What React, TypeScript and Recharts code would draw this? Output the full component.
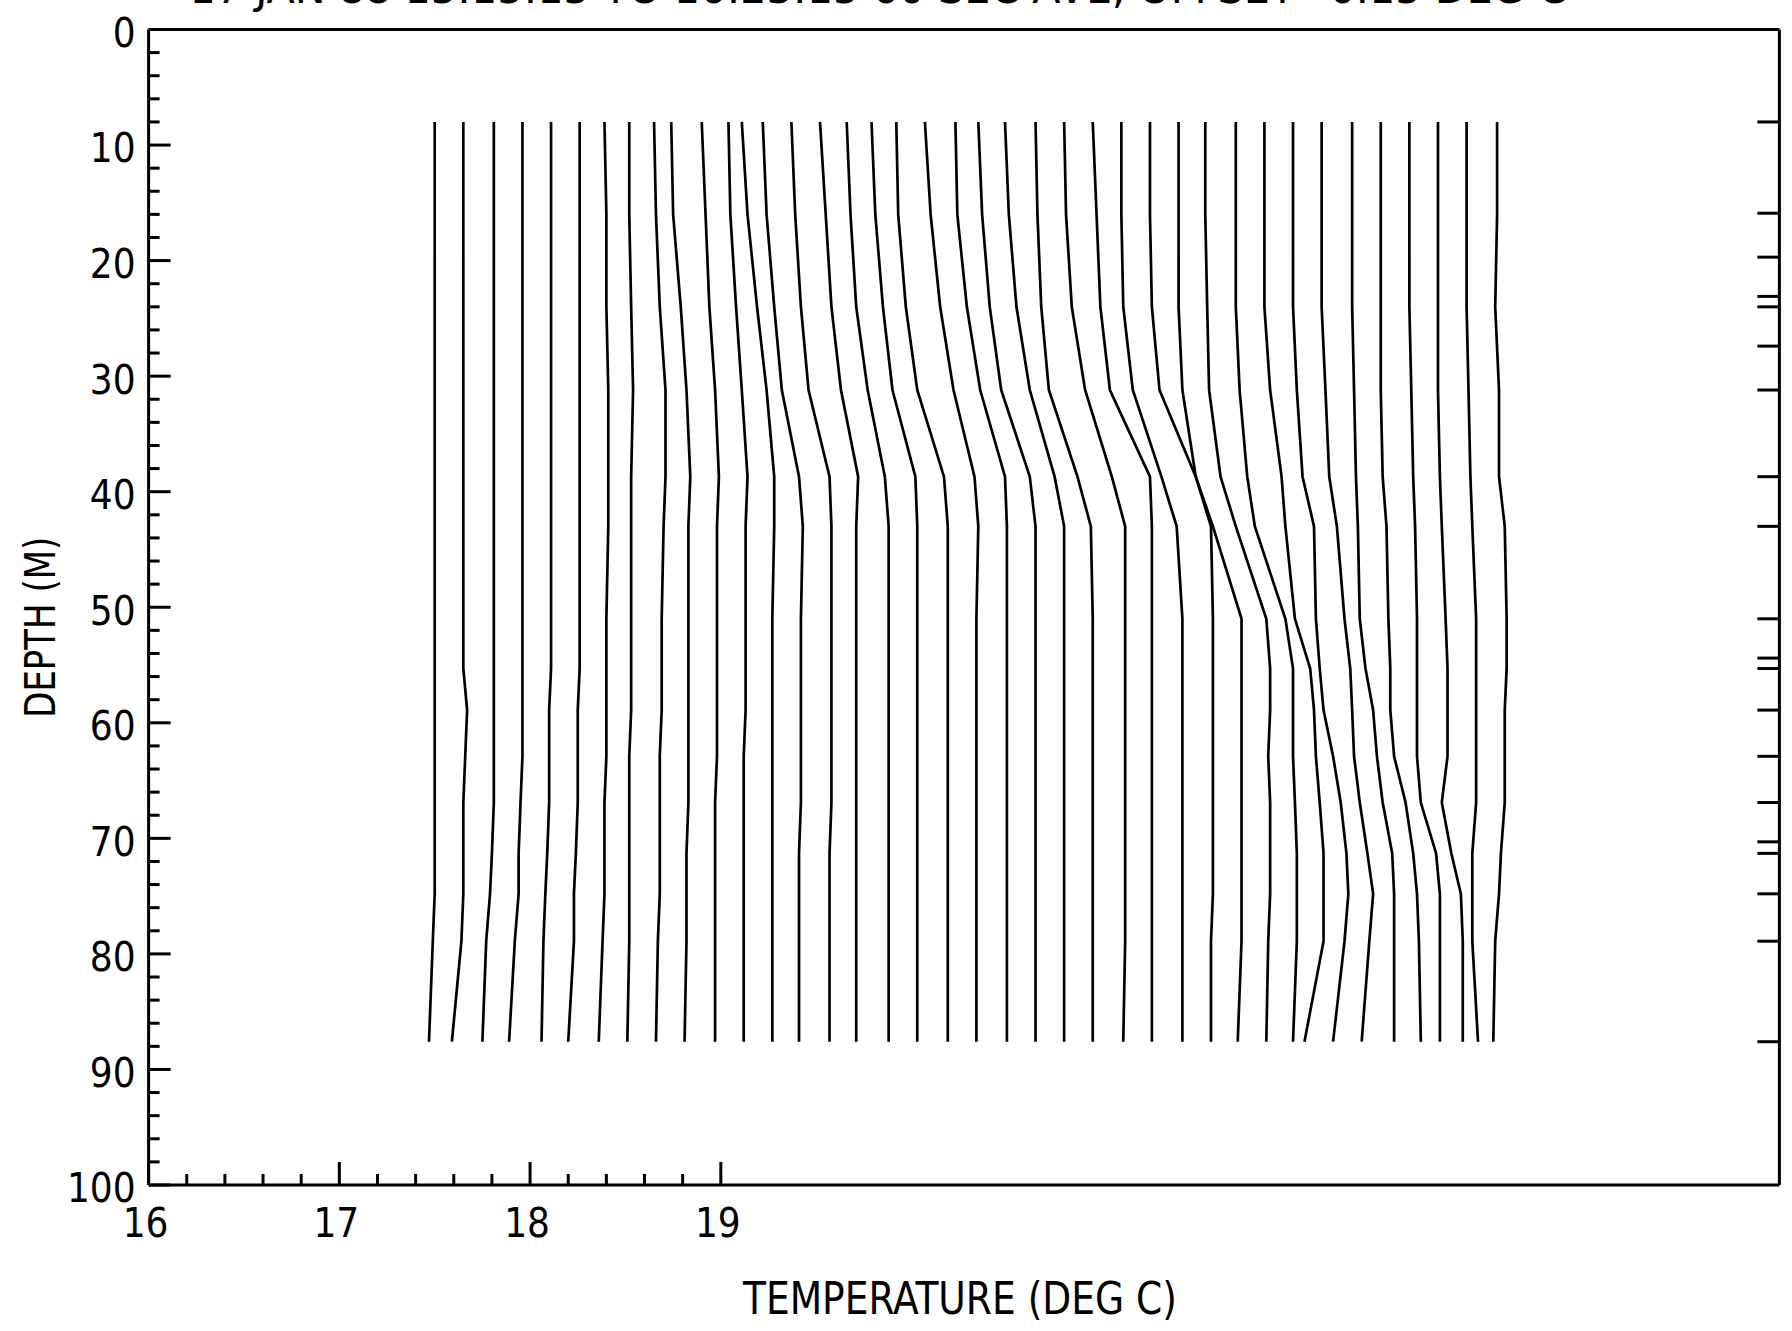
import React from 'react';
import { ComposedChart, Scatter, XAxis, YAxis } from 'recharts';

const TITLE = '17 JAN 88 15:15:15 TO 16:23:15  60 SEC AVE, OFFSET=0.15 DEG C';
const X_LABEL = 'TEMPERATURE (DEG C)';
const Y_LABEL = 'DEPTH (M)';

// depths (m) at which the profiles are drawn
const DEPTHS = [8, 16, 24, 31.2, 38.7, 43, 51, 55.3, 58.9, 62.9, 66.9, 71.3, 74.8, 78.9, 87.6];
// sensor depths marked on the right frame
const SENSOR_DEPTHS = [8, 15.9, 19.7, 23.1, 24, 27.4, 31.2, 38.7, 43, 51, 54.4, 55.3, 58.9, 62.9, 66.9, 70.3, 71.3, 74.8, 78.9, 87.6];

const X_TICKS = [16, 16.2, 16.4, 16.6, 16.8, 17, 17.2, 17.4, 17.6, 17.8, 18, 18.2, 18.4, 18.6, 18.8, 19];
const X_TICK_LABELS = [16, 17, 18, 19];
const Y_TICKS = [0, 2, 4, 6, 8, 10, 12, 14, 16, 18, 20, 22, 24, 26, 28, 30, 32, 34, 36, 38, 40, 42, 44, 46, 48, 50, 52, 54, 56, 58, 60, 62, 64, 66, 68, 70, 72, 74, 76, 78, 80, 82, 84, 86, 88, 90, 92, 94, 96, 98, 100];
const Y_TICK_LABELS = [0, 10, 20, 30, 40, 50, 60, 70, 80, 90, 100];
const X_DOMAIN = [16, 24.55];
const Y_DOMAIN = [0, 100];

// temperature profiles (deg C, with 0.15 deg offset between successive profiles)
const P01 = [17.50, 17.50, 17.50, 17.50, 17.50, 17.50, 17.50, 17.50, 17.50, 17.50, 17.50, 17.50, 17.50, 17.49, 17.47];
const P02 = [17.65, 17.65, 17.65, 17.65, 17.65, 17.65, 17.65, 17.65, 17.67, 17.66, 17.65, 17.65, 17.65, 17.64, 17.59];
const P03 = [17.81, 17.81, 17.81, 17.81, 17.81, 17.81, 17.81, 17.81, 17.81, 17.81, 17.81, 17.80, 17.79, 17.77, 17.75];
const P04 = [17.96, 17.96, 17.96, 17.96, 17.96, 17.96, 17.96, 17.96, 17.96, 17.96, 17.95, 17.94, 17.94, 17.92, 17.89];
const P05 = [18.11, 18.11, 18.11, 18.11, 18.11, 18.11, 18.11, 18.11, 18.10, 18.10, 18.10, 18.09, 18.08, 18.07, 18.06];
const P06 = [18.26, 18.26, 18.26, 18.26, 18.26, 18.26, 18.26, 18.26, 18.25, 18.25, 18.25, 18.24, 18.23, 18.23, 18.20];
const P07 = [18.39, 18.40, 18.40, 18.41, 18.41, 18.41, 18.40, 18.40, 18.40, 18.40, 18.39, 18.39, 18.39, 18.38, 18.36];
const P08 = [18.52, 18.52, 18.53, 18.54, 18.53, 18.53, 18.53, 18.53, 18.53, 18.52, 18.52, 18.52, 18.52, 18.52, 18.51];
const P09 = [18.65, 18.66, 18.68, 18.71, 18.71, 18.70, 18.69, 18.69, 18.69, 18.68, 18.68, 18.68, 18.68, 18.67, 18.66];
const P10 = [18.74, 18.75, 18.79, 18.82, 18.84, 18.83, 18.83, 18.83, 18.83, 18.83, 18.83, 18.82, 18.82, 18.82, 18.81];
const P11 = [18.90, 18.92, 18.94, 18.97, 18.99, 18.98, 18.98, 18.98, 18.98, 18.98, 18.97, 18.97, 18.97, 18.97, 18.97];
const P12 = [19.04, 19.05, 19.08, 19.11, 19.14, 19.13, 19.13, 19.13, 19.13, 19.12, 19.12, 19.12, 19.12, 19.12, 19.12];
const P13 = [19.11, 19.14, 19.19, 19.24, 19.28, 19.28, 19.27, 19.27, 19.27, 19.27, 19.27, 19.27, 19.27, 19.27, 19.27];
const P14 = [19.22, 19.24, 19.28, 19.32, 19.41, 19.43, 19.42, 19.42, 19.42, 19.42, 19.42, 19.41, 19.41, 19.41, 19.41];
const P15 = [19.37, 19.39, 19.42, 19.46, 19.57, 19.58, 19.58, 19.58, 19.58, 19.58, 19.58, 19.57, 19.57, 19.57, 19.57];
const P16 = [19.52, 19.55, 19.58, 19.63, 19.72, 19.71, 19.71, 19.71, 19.71, 19.71, 19.71, 19.71, 19.71, 19.71, 19.71];
const P17 = [19.66, 19.68, 19.71, 19.77, 19.86, 19.88, 19.88, 19.88, 19.88, 19.88, 19.88, 19.88, 19.88, 19.88, 19.88];
const P18 = [19.79, 19.81, 19.85, 19.90, 20.02, 20.03, 20.03, 20.03, 20.03, 20.03, 20.03, 20.03, 20.03, 20.03, 20.03];
const P19 = [19.92, 19.93, 19.97, 20.03, 20.17, 20.19, 20.19, 20.19, 20.19, 20.19, 20.19, 20.19, 20.19, 20.19, 20.19];
const P20 = [20.07, 20.10, 20.15, 20.22, 20.33, 20.35, 20.34, 20.34, 20.34, 20.34, 20.34, 20.34, 20.34, 20.34, 20.34];
const P21 = [20.23, 20.24, 20.29, 20.36, 20.49, 20.50, 20.50, 20.50, 20.50, 20.50, 20.50, 20.50, 20.50, 20.50, 20.50];
const P22 = [20.35, 20.37, 20.41, 20.47, 20.62, 20.65, 20.65, 20.65, 20.65, 20.65, 20.65, 20.65, 20.65, 20.65, 20.65];
const P23 = [20.49, 20.51, 20.55, 20.62, 20.75, 20.80, 20.80, 20.80, 20.80, 20.80, 20.80, 20.80, 20.80, 20.80, 20.80];
const P24 = [20.65, 20.66, 20.68, 20.72, 20.87, 20.94, 20.95, 20.95, 20.95, 20.95, 20.95, 20.95, 20.95, 20.95, 20.95];
const P25 = [20.80, 20.81, 20.84, 20.91, 21.05, 21.12, 21.12, 21.12, 21.12, 21.12, 21.12, 21.12, 21.12, 21.12, 21.11];
const P26 = [20.95, 20.97, 20.99, 21.04, 21.25, 21.26, 21.26, 21.26, 21.26, 21.26, 21.26, 21.26, 21.26, 21.26, 21.26];
const P27 = [21.10, 21.10, 21.11, 21.16, 21.31, 21.39, 21.42, 21.42, 21.42, 21.42, 21.42, 21.42, 21.42, 21.42, 21.42];
const P28 = [21.25, 21.25, 21.26, 21.30, 21.49, 21.57, 21.58, 21.58, 21.58, 21.58, 21.58, 21.58, 21.58, 21.57, 21.57];
const P29 = [21.40, 21.40, 21.40, 21.42, 21.49, 21.58, 21.73, 21.73, 21.73, 21.73, 21.73, 21.73, 21.73, 21.73, 21.71];
const P30 = [21.54, 21.54, 21.55, 21.56, 21.62, 21.70, 21.86, 21.88, 21.88, 21.87, 21.88, 21.88, 21.88, 21.87, 21.86];
const P31 = [21.70, 21.70, 21.70, 21.72, 21.76, 21.80, 21.96, 22.00, 22.00, 22.00, 22.01, 22.02, 22.02, 22.02, 22.00];
const P32 = [21.85, 21.85, 21.85, 21.88, 21.94, 21.96, 22.01, 22.09, 22.11, 22.12, 22.14, 22.16, 22.16, 22.16, 22.06];
const P33 = [22.00, 22.00, 22.00, 22.02, 22.05, 22.11, 22.12, 22.14, 22.16, 22.21, 22.25, 22.28, 22.29, 22.27, 22.21];
const P34 = [22.15, 22.15, 22.15, 22.17, 22.19, 22.23, 22.27, 22.30, 22.31, 22.32, 22.35, 22.39, 22.42, 22.40, 22.36];
const P35 = [22.31, 22.31, 22.31, 22.32, 22.33, 22.34, 22.35, 22.38, 22.42, 22.44, 22.47, 22.52, 22.53, 22.53, 22.53];
const P36 = [22.46, 22.46, 22.46, 22.46, 22.47, 22.49, 22.50, 22.51, 22.51, 22.53, 22.59, 22.63, 22.65, 22.66, 22.67];
const P37 = [22.61, 22.61, 22.61, 22.62, 22.63, 22.64, 22.65, 22.65, 22.65, 22.65, 22.67, 22.75, 22.77, 22.77, 22.77];
const P38 = [22.76, 22.76, 22.76, 22.76, 22.77, 22.78, 22.80, 22.81, 22.81, 22.81, 22.78, 22.83, 22.88, 22.89, 22.89];
const P39 = [22.91, 22.91, 22.91, 22.92, 22.93, 22.94, 22.96, 22.96, 22.96, 22.96, 22.96, 22.94, 22.94, 22.94, 22.97];
const P40 = [23.07, 23.07, 23.06, 23.08, 23.08, 23.11, 23.12, 23.12, 23.11, 23.11, 23.11, 23.09, 23.08, 23.06, 23.05];

const PROFILES = [
  P01, P02, P03, P04, P05, P06, P07, P08, P09, P10,
  P11, P12, P13, P14, P15, P16, P17, P18, P19, P20,
  P21, P22, P23, P24, P25, P26, P27, P28, P29, P30,
  P31, P32, P33, P34, P35, P36, P37, P38, P39, P40,
];

const SERIES = PROFILES.map((temps) => DEPTHS.map((d, i) => ({ t: temps[i], d })));
const SENSOR_ROWS = SENSOR_DEPTHS.map((d) => ({ t: X_DOMAIN[0], d }));

const FONT = "'DejaVu Sans Condensed', 'DejaVu Sans', sans-serif";
const INK = '#000';

const EmptyShape = () => <g />;

function BottomTick(props: any) {
  const { x, y, payload } = props;
  const major = X_TICK_LABELS.includes(payload.value);
  return (
    <g>
      <line x1={x} y1={y} x2={x} y2={y - (major ? 23 : 11)} stroke={INK} strokeWidth={3} />
      {major && (
        <text x={x - 3} y={y + 52} textAnchor="middle" fontFamily={FONT} fontStretch="condensed" fontSize={40} fill={INK}>
          {payload.value}
        </text>
      )}
    </g>
  );
}

function LeftTick(props: any) {
  const { x, y, payload } = props;
  const major = Y_TICK_LABELS.includes(payload.value);
  return (
    <g>
      <line x1={x} y1={y} x2={x + (major ? 22 : 11)} y2={y} stroke={INK} strokeWidth={3} />
      {major && (
        <text x={x - 13} y={y + 3} dy="0.36em" textAnchor="end" fontFamily={FONT} fontStretch="condensed" fontSize={40} fill={INK}>
          {payload.value}
        </text>
      )}
    </g>
  );
}

function RightTick(props: any) {
  const { x, y } = props;
  return <line x1={x} y1={y} x2={x - 22} y2={y} stroke={INK} strokeWidth={3} />;
}

function XLabel(props: any) {
  const { x, y, width } = props.viewBox;
  return (
    <text x={x + width / 2 - 4} y={y + 129} textAnchor="middle" fontFamily={FONT} fontStretch="condensed" fontSize={44} fill={INK} textLength={434} lengthAdjust="spacingAndGlyphs">
      {X_LABEL}
    </text>
  );
}

function YLabel(props: any) {
  const { x, y, height } = props.viewBox;
  const cx = x + 31;
  const cy = y + height / 2 + 20;
  return (
    <text x={cx} y={cy} dy="0.36em" transform={`rotate(-90, ${cx}, ${cy})`} textAnchor="middle" fontFamily={FONT} fontStretch="condensed" fontSize={42} fill={INK} textLength={181} lengthAdjust="spacingAndGlyphs">
      {Y_LABEL}
    </text>
  );
}

function TitleLabel(props: any) {
  const { x, width } = props.viewBox;
  return (
    <text x={x + width / 2 - 86} y={3} textAnchor="middle" fontFamily={FONT} fontStretch="condensed" fontSize={42} fill={INK} textLength={1377} lengthAdjust="spacingAndGlyphs">
      {TITLE}
    </text>
  );
}

export default function App() {
  return (
    <div style={{ position: 'absolute', left: 0, top: 0, width: 1792, height: 1331, background: '#fff' }}>
      <ComposedChart width={1792} height={1331} margin={{ top: 28.5, right: 11.6, bottom: 16, left: 8.6 }}>
        <XAxis
          xAxisId="b"
          dataKey="t"
          type="number"
          domain={X_DOMAIN}
          allowDataOverflow
          ticks={X_TICKS}
          interval={0}
          tick={BottomTick}
          tickLine={false}
          tickSize={0}
          tickMargin={0}
          height={130}
          axisLine={{ stroke: INK, strokeWidth: 3 }}
          label={{ content: XLabel }}
        />
        <XAxis
          xAxisId="t"
          orientation="top"
          dataKey="t"
          type="number"
          domain={X_DOMAIN}
          allowDataOverflow
          tick={false}
          tickLine={false}
          height={1}
          axisLine={{ stroke: INK, strokeWidth: 3 }}
          label={{ content: TitleLabel }}
        />
        <YAxis
          yAxisId="l"
          dataKey="d"
          type="number"
          domain={Y_DOMAIN}
          reversed
          allowDataOverflow
          ticks={Y_TICKS}
          interval={0}
          tick={LeftTick}
          tickLine={false}
          tickSize={0}
          tickMargin={0}
          width={140}
          axisLine={{ stroke: INK, strokeWidth: 3 }}
          label={{ content: YLabel }}
        />
        <YAxis
          yAxisId="r"
          orientation="right"
          dataKey="d"
          type="number"
          domain={Y_DOMAIN}
          reversed
          allowDataOverflow
          ticks={SENSOR_DEPTHS}
          interval={0}
          tick={RightTick}
          tickLine={false}
          tickSize={0}
          tickMargin={0}
          width={1}
          axisLine={{ stroke: INK, strokeWidth: 3 }}
        />
        <Scatter data={SENSOR_ROWS} xAxisId="b" yAxisId="r" shape={EmptyShape} isAnimationActive={false} />
        {SERIES.map((data, i) => (
          <Scatter
            key={i}
            data={data}
            xAxisId="b"
            yAxisId="l"
            line={{ stroke: INK, strokeWidth: 2.7 }}
            lineType="joint"
            shape={EmptyShape}
            isAnimationActive={false}
          />
        ))}
      </ComposedChart>
    </div>
  );
}
